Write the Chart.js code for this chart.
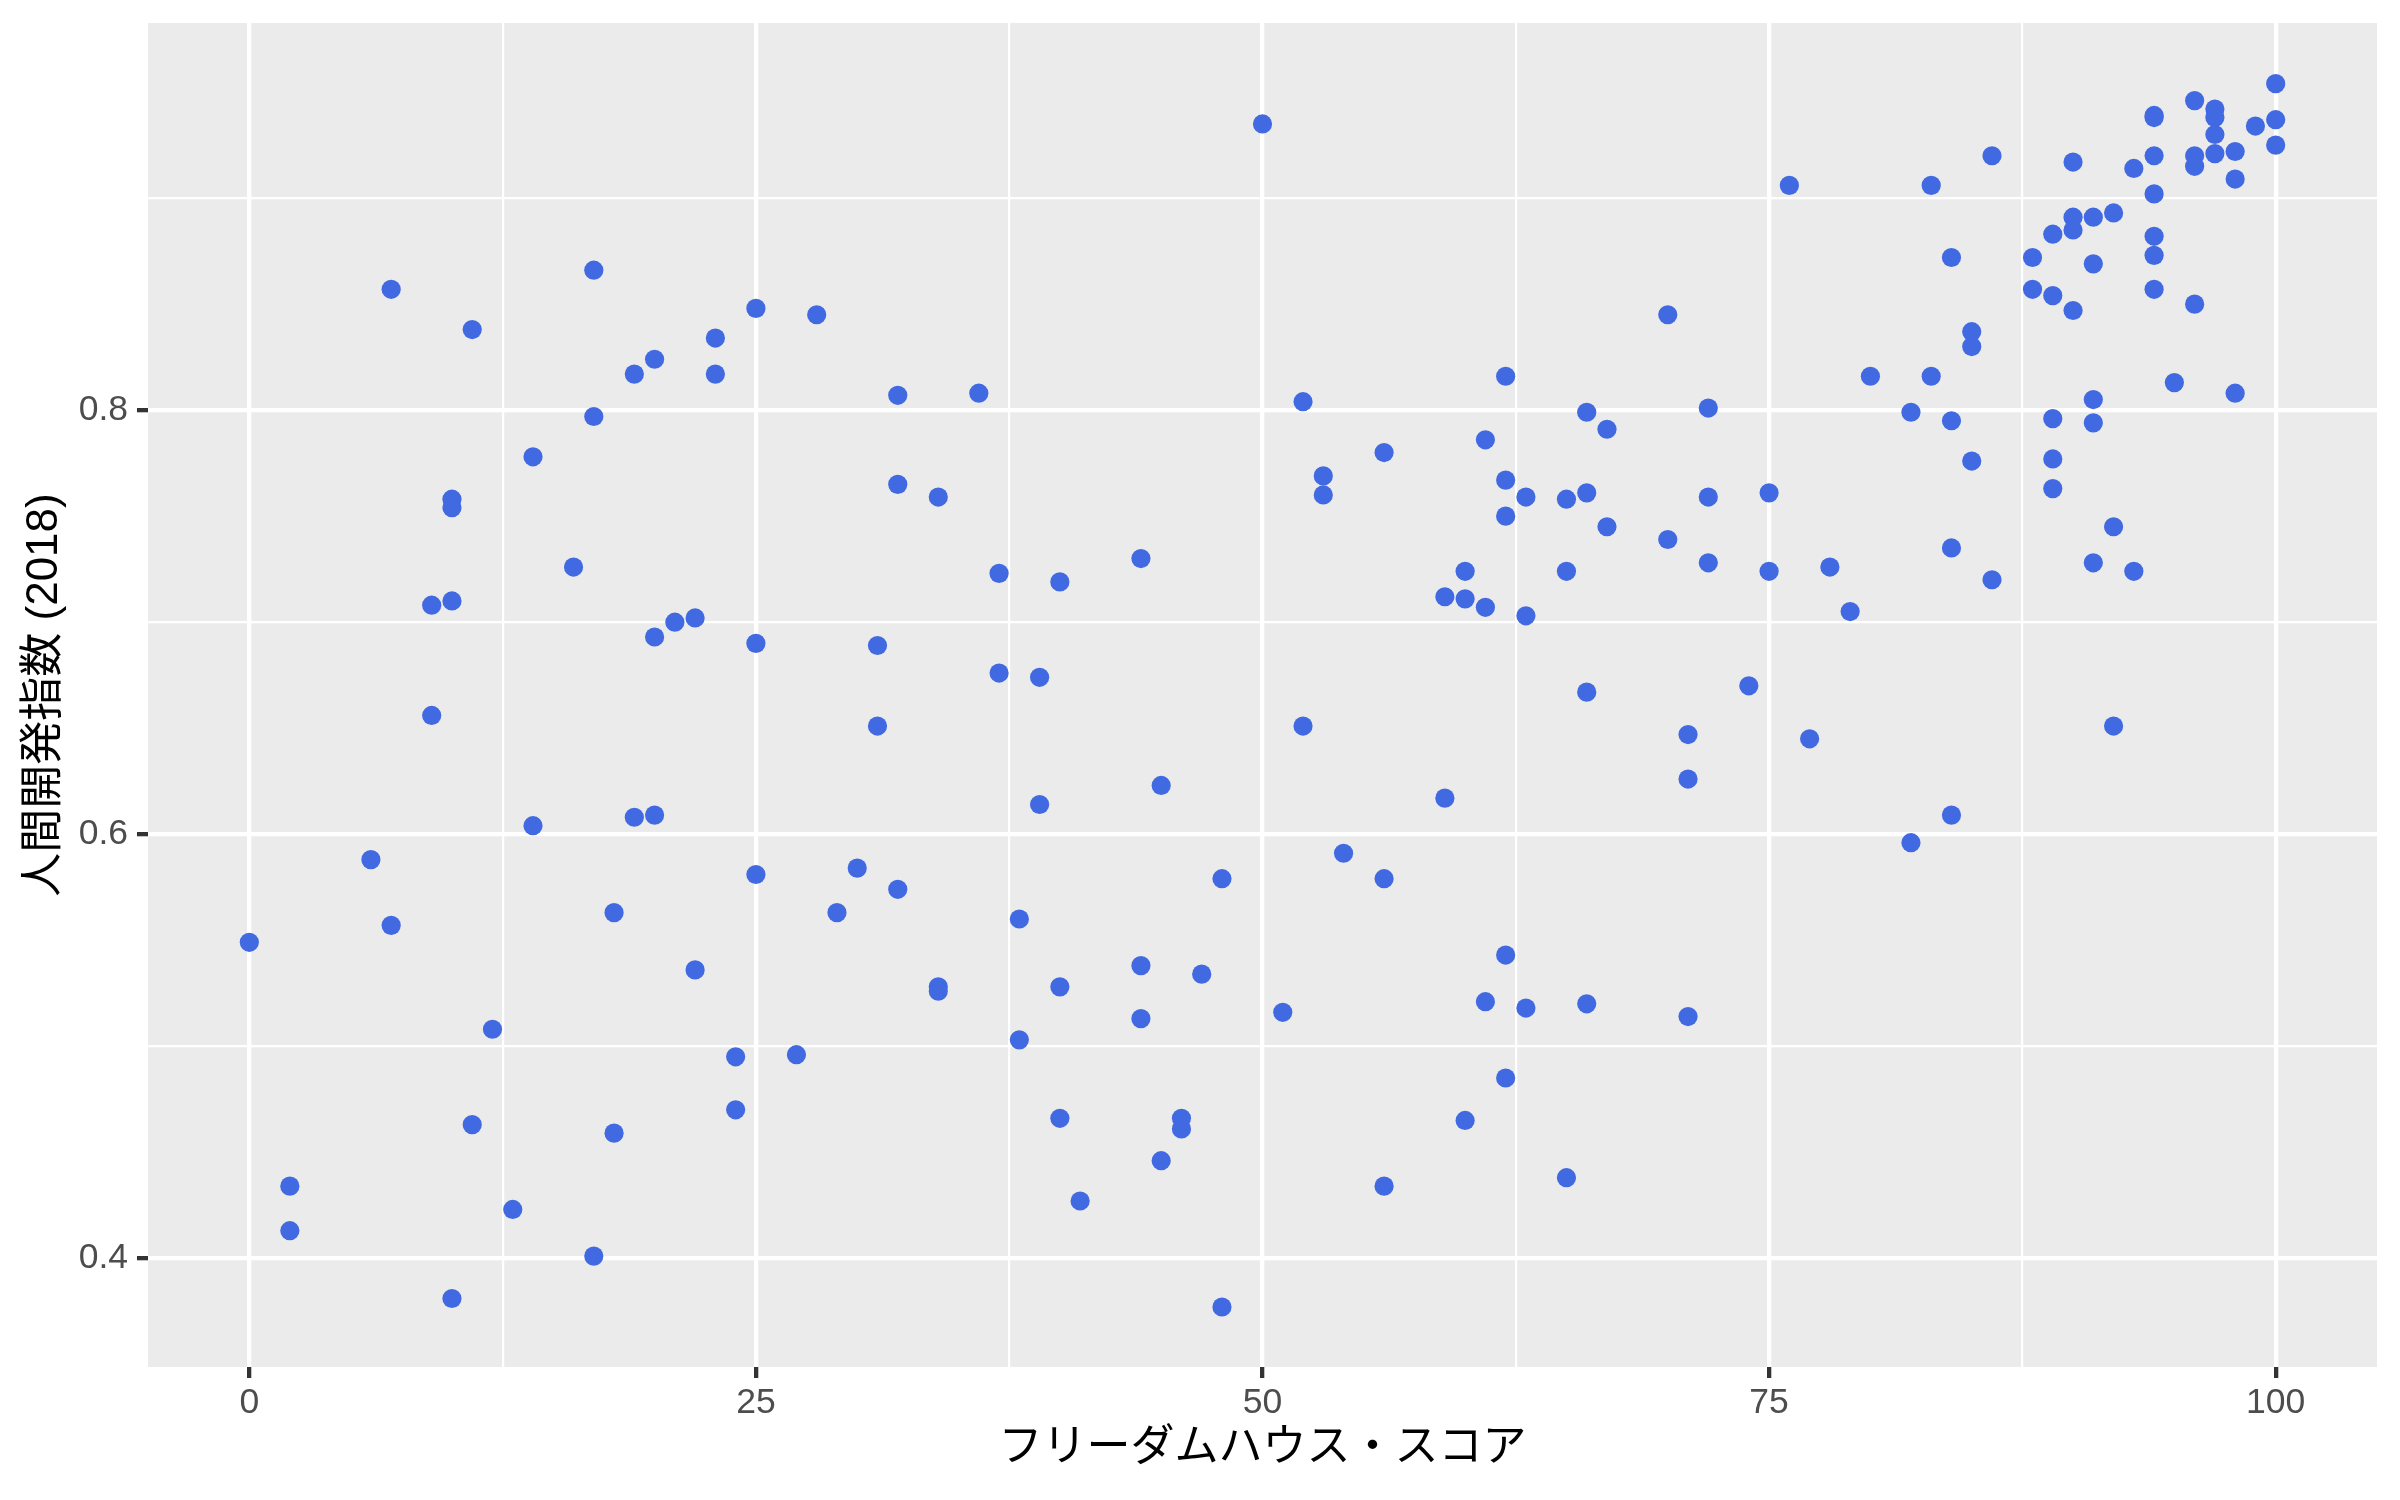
<!DOCTYPE html>
<html>
<head>
<meta charset="utf-8">
<script src="https://cdn.jsdelivr.net/npm/chart.js@4"></script>
<style>
  body { margin: 0; background: #ffffff; }
</style>
</head>
<body>
<canvas id="scatter-chart" width="2400" height="1500"></canvas>
<script>
// フリーダムハウス・スコア (x) と 人間開発指数 2018 (y)
var freedomScore = [
  0,
  2, 2,
  6,
  7, 7,
  9, 9,
  10, 10, 10, 10,
  11, 11,
  12,
  13,
  14, 14,
  16,
  17, 17, 17,
  18, 18,
  19, 19,
  20, 20, 20,
  21,
  22, 22,
  23, 23,
  24, 24,
  25, 25, 25,
  27,
  28,
  29,
  30,
  31, 31,
  32, 32, 32,
  34, 34, 34,
  36,
  37, 37,
  38, 38,
  39, 39,
  40, 40, 40,
  41,
  44, 44, 44,
  45, 45,
  46, 46,
  47,
  48, 48,
  50,
  51,
  52, 52,
  53, 53,
  54,
  56, 56, 56,
  59, 59,
  60, 60, 60,
  61, 61, 61,
  62, 62, 62, 62, 62,
  63, 63, 63,
  65, 65, 65,
  66, 66, 66, 66,
  67, 67,
  70, 70,
  71, 71, 71,
  72, 72, 72,
  74,
  75, 75,
  76,
  77,
  78,
  79,
  80,
  82, 82,
  83, 83,
  84, 84, 84, 84,
  85, 85, 85,
  86, 86,
  88, 88,
  89, 89, 89, 89, 89,
  90, 90, 90, 90,
  91, 91, 91, 91, 91,
  92, 92, 92,
  93, 93,
  94, 94, 94, 94, 94, 94, 94,
  95,
  96, 96, 96, 96,
  97, 97, 97, 97,
  98, 98, 98,
  99,
  100, 100, 100
];

var hdi = [
  0.549,
  0.434, 0.413,
  0.588,
  0.857, 0.557,
  0.708, 0.656,
  0.758, 0.754, 0.710, 0.381,
  0.838, 0.463,
  0.508,
  0.423,
  0.778, 0.604,
  0.726,
  0.866, 0.797, 0.401,
  0.563, 0.459,
  0.817, 0.608,
  0.824, 0.693, 0.609,
  0.700,
  0.702, 0.536,
  0.834, 0.817,
  0.495, 0.470,
  0.848, 0.690, 0.581,
  0.496,
  0.845,
  0.563,
  0.584,
  0.689, 0.651,
  0.807, 0.765, 0.574,
  0.759, 0.528, 0.526,
  0.808,
  0.723, 0.676,
  0.560, 0.503,
  0.674, 0.614,
  0.719, 0.528, 0.466,
  0.427,
  0.730, 0.538, 0.513,
  0.623, 0.446,
  0.466, 0.461,
  0.534,
  0.579, 0.377,
  0.935,
  0.516,
  0.804, 0.651,
  0.769, 0.760,
  0.591,
  0.780, 0.579, 0.434,
  0.712, 0.617,
  0.724, 0.711, 0.465,
  0.786, 0.707, 0.521,
  0.816, 0.767, 0.750, 0.543, 0.485,
  0.759, 0.703, 0.518,
  0.758, 0.724, 0.438,
  0.799, 0.761, 0.667, 0.520,
  0.791, 0.745,
  0.845, 0.739,
  0.647, 0.626, 0.514,
  0.801, 0.759, 0.728,
  0.670,
  0.761, 0.724,
  0.906,
  0.645,
  0.726,
  0.705,
  0.816,
  0.799, 0.596,
  0.906, 0.816,
  0.872, 0.795, 0.735, 0.609,
  0.837, 0.830, 0.776,
  0.920, 0.720,
  0.872, 0.857,
  0.883, 0.854, 0.796, 0.777, 0.763,
  0.917, 0.891, 0.885, 0.847,
  0.891, 0.869, 0.805, 0.794, 0.728,
  0.893, 0.745, 0.651,
  0.914, 0.724,
  0.939, 0.938, 0.920, 0.902, 0.882, 0.873, 0.857,
  0.813,
  0.946, 0.920, 0.915, 0.850,
  0.942, 0.938, 0.930, 0.921,
  0.922, 0.909, 0.808,
  0.934,
  0.954, 0.937, 0.925
];

var xTicks = [0, 12.5, 25, 37.5, 50, 62.5, 75, 87.5, 100];
var xLabels = ['0', '', '25', '', '50', '', '75', '', '100'];
var yTicks = [0.4, 0.5, 0.6, 0.7, 0.8, 0.9];
var yLabels = ['0.4', '', '0.6', '', '0.8', ''];

var points = freedomScore.map(function(x, i) {
  return { x: x, y: hdi[i] };
});

var labelFont = "'Liberation Sans', 'Noto Sans CJK JP', sans-serif";
var titleFont = "'Liberation Sans', 'Noto Sans CJK JP', sans-serif";

function isMajor(labels, index) {
  return labels[index] !== '' && labels[index] !== undefined;
}

var panelBackground = {
  id: 'panelBackground',
  beforeDraw: function(chart) {
    var a = chart.chartArea;
    var ctx = chart.ctx;
    ctx.save();
    ctx.fillStyle = '#EBEBEB';
    ctx.fillRect(a.left, a.top, a.right - a.left, a.bottom - a.top);
    ctx.restore();
  }
};

new Chart(document.getElementById("scatter-chart"), {
  type: 'scatter',
  data: {
    datasets: [{
      data: points,
      backgroundColor: '#4169E1',
      borderWidth: 0,
      pointRadius: 9.6,
      pointHoverRadius: 9.6
    }]
  },
  plugins: [panelBackground],
  options: {
    responsive: false,
    animation: false,
    layout: {
      autoPadding: false,
      padding: { left: 0, right: 23, top: 23, bottom: 0 }
    },
    plugins: {
      legend: { display: false },
      tooltip: { enabled: false }
    },
    scales: {
      x: {
        type: 'linear',
        min: -5,
        max: 105,
        afterBuildTicks: function(axis) {
          axis.ticks = xTicks.map(function(v) { return { value: v }; });
        },
        afterFit: function(axis) {
          axis.height = 133;
          axis.paddingLeft = 0;
          axis.paddingRight = 0;
        },
        border: { display: false },
        grid: {
          color: '#FFFFFF',
          lineWidth: function(ctx) { return isMajor(xLabels, ctx.index) ? 4.3 : 2.2; },
          tickColor: function(ctx) { return isMajor(xLabels, ctx.index) ? '#333333' : 'rgba(0,0,0,0)'; },
          tickWidth: 4.3,
          tickLength: 11
        },
        ticks: {
          autoSkip: false,
          maxRotation: 0,
          minRotation: 0,
          padding: 4,
          color: '#4D4D4D',
          font: { family: labelFont, size: 35.5 },
          callback: function(value, index) { return xLabels[index]; }
        },
        title: {
          display: true,
          text: 'フリーダムハウス・スコア',
          color: '#000000',
          font: { family: titleFont, size: 44 },
          padding: { top: 0, bottom: 25 }
        }
      },
      y: {
        type: 'linear',
        min: 0.3487,
        max: 0.9826,
        afterBuildTicks: function(axis) {
          axis.ticks = yTicks.map(function(v) { return { value: v }; });
        },
        afterFit: function(axis) {
          axis.width = 148;
          axis.paddingTop = 0;
          axis.paddingBottom = 0;
        },
        border: { display: false },
        grid: {
          color: '#FFFFFF',
          lineWidth: function(ctx) { return isMajor(yLabels, ctx.index) ? 4.3 : 2.2; },
          tickColor: function(ctx) { return isMajor(yLabels, ctx.index) ? '#333333' : 'rgba(0,0,0,0)'; },
          tickWidth: 4.3,
          tickLength: 11
        },
        ticks: {
          autoSkip: false,
          padding: 9,
          color: '#4D4D4D',
          font: { family: labelFont, size: 35.5 },
          callback: function(value, index) { return yLabels[index]; }
        },
        title: {
          display: true,
          text: '人間開発指数 (2018)',
          color: '#000000',
          font: { family: titleFont, size: 44 },
          padding: { top: 18, bottom: 0 }
        }
      }
    }
  }
});
</script>
</body>
</html>
